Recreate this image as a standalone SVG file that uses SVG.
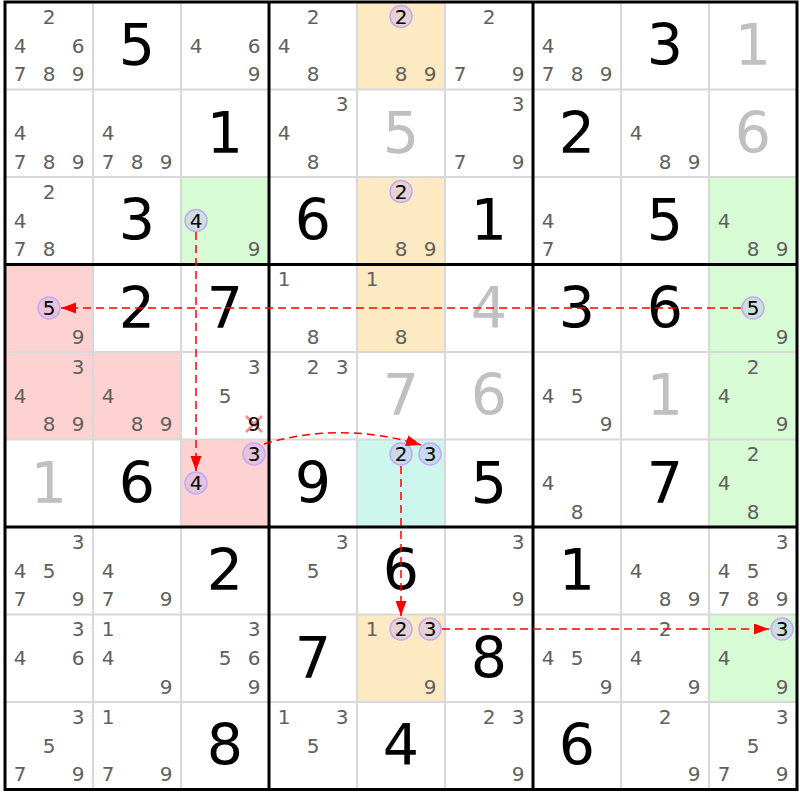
<svg xmlns="http://www.w3.org/2000/svg" width="800" height="800" viewBox="0 0 800 800">
<style>
text{font-family:"DejaVu Sans","Liberation Sans",sans-serif}
.c{font-size:20px;fill:#606060;text-anchor:middle}
.k{font-size:20px;fill:#000;text-anchor:middle}
.v{font-size:57px;fill:#000;text-anchor:middle}
.g{font-size:57px;fill:#c0c0c0;text-anchor:middle}
.o{fill:#fde9c2}
.gr{fill:#d7fcd5}
.rd{fill:#ffd2d2}
.tl{fill:#cdf6ec}
.ring{fill:#b8a8f0;fill-opacity:0.35;stroke:#c4a8f8;stroke-width:1.5}
.thin{stroke:#d8d8d8;stroke-width:2}
.thick{stroke:#000;stroke-width:3}
.ar{fill:none;stroke:#ff0000;stroke-width:1.5;stroke-dasharray:8 5;marker-end:url(#ah)}
</style>
<defs>
<marker id="ah" markerUnits="userSpaceOnUse" markerWidth="16" markerHeight="12" refX="15" refY="5.5" orient="auto">
<path d="M0,0 L15,5.5 L0,11 z" fill="#ff0000"/>
</marker>
</defs>
<rect x="0" y="0" width="800" height="800" fill="#fff"/>

<g id="r1c1" transform="translate(5,2)"><text class="c" x="44" y="21.5">2</text><text class="c" x="15" y="50.5">4</text><text class="c" x="73" y="50.5">6</text><text class="c" x="15" y="79">7</text><text class="c" x="44" y="79">8</text><text class="c" x="73" y="79">9</text></g>
<g id="r1c2" transform="translate(93,2)"><text class="v" x="44" y="63">5</text></g>
<g id="r1c3" transform="translate(181,2)"><text class="c" x="15" y="50.5">4</text><text class="c" x="73" y="50.5">6</text><text class="c" x="73" y="79">9</text></g>
<g id="r1c4" transform="translate(269,2)"><text class="c" x="44" y="21.5">2</text><text class="c" x="15" y="50.5">4</text><text class="c" x="44" y="79">8</text></g>
<g id="r1c5" transform="translate(357,2)"><rect class="o" width="88" height="87.5"/><circle class="ring" cx="44" cy="14.5" r="11"/><text class="k" x="44" y="21.5">2</text><text class="c" x="44" y="79">8</text><text class="c" x="73" y="79">9</text></g>
<g id="r1c6" transform="translate(445,2)"><text class="c" x="44" y="21.5">2</text><text class="c" x="15" y="79">7</text><text class="c" x="73" y="79">9</text></g>
<g id="r1c7" transform="translate(533,2)"><text class="c" x="15" y="50.5">4</text><text class="c" x="15" y="79">7</text><text class="c" x="44" y="79">8</text><text class="c" x="73" y="79">9</text></g>
<g id="r1c8" transform="translate(621,2)"><text class="v" x="44" y="63">3</text></g>
<g id="r1c9" transform="translate(709,2)"><text class="g" x="44" y="63">1</text></g>

<g id="r2c1" transform="translate(5,89.5)"><text class="c" x="15" y="50.5">4</text><text class="c" x="15" y="79">7</text><text class="c" x="44" y="79">8</text><text class="c" x="73" y="79">9</text></g>
<g id="r2c2" transform="translate(93,89.5)"><text class="c" x="15" y="50.5">4</text><text class="c" x="15" y="79">7</text><text class="c" x="44" y="79">8</text><text class="c" x="73" y="79">9</text></g>
<g id="r2c3" transform="translate(181,89.5)"><text class="v" x="44" y="63">1</text></g>
<g id="r2c4" transform="translate(269,89.5)"><text class="c" x="73" y="21.5">3</text><text class="c" x="15" y="50.5">4</text><text class="c" x="44" y="79">8</text></g>
<g id="r2c5" transform="translate(357,89.5)"><text class="g" x="44" y="63">5</text></g>
<g id="r2c6" transform="translate(445,89.5)"><text class="c" x="73" y="21.5">3</text><text class="c" x="15" y="79">7</text><text class="c" x="73" y="79">9</text></g>
<g id="r2c7" transform="translate(533,89.5)"><text class="v" x="44" y="63">2</text></g>
<g id="r2c8" transform="translate(621,89.5)"><text class="c" x="15" y="50.5">4</text><text class="c" x="44" y="79">8</text><text class="c" x="73" y="79">9</text></g>
<g id="r2c9" transform="translate(709,89.5)"><text class="g" x="44" y="63">6</text></g>

<g id="r3c1" transform="translate(5,177)"><text class="c" x="44" y="21.5">2</text><text class="c" x="15" y="50.5">4</text><text class="c" x="15" y="79">7</text><text class="c" x="44" y="79">8</text></g>
<g id="r3c2" transform="translate(93,177)"><text class="v" x="44" y="63">3</text></g>
<g id="r3c3" transform="translate(181,177)"><rect class="gr" width="88" height="87.5"/><circle class="ring" cx="15" cy="43.5" r="11"/><text class="k" x="15" y="50.5">4</text><text class="c" x="73" y="79">9</text></g>
<g id="r3c4" transform="translate(269,177)"><text class="v" x="44" y="63">6</text></g>
<g id="r3c5" transform="translate(357,177)"><rect class="o" width="88" height="87.5"/><circle class="ring" cx="44" cy="14.5" r="11"/><text class="k" x="44" y="21.5">2</text><text class="c" x="44" y="79">8</text><text class="c" x="73" y="79">9</text></g>
<g id="r3c6" transform="translate(445,177)"><text class="v" x="44" y="63">1</text></g>
<g id="r3c7" transform="translate(533,177)"><text class="c" x="15" y="50.5">4</text><text class="c" x="15" y="79">7</text></g>
<g id="r3c8" transform="translate(621,177)"><text class="v" x="44" y="63">5</text></g>
<g id="r3c9" transform="translate(709,177)"><rect class="gr" width="88" height="87.5"/><text class="c" x="15" y="50.5">4</text><text class="c" x="44" y="79">8</text><text class="c" x="73" y="79">9</text></g>

<g id="r4c1" transform="translate(5,264.5)"><rect class="rd" width="88" height="87.5"/><circle class="ring" cx="44" cy="43.5" r="11"/><text class="k" x="44" y="50.5">5</text><text class="c" x="73" y="79">9</text></g>
<g id="r4c2" transform="translate(93,264.5)"><text class="v" x="44" y="63">2</text></g>
<g id="r4c3" transform="translate(181,264.5)"><text class="v" x="44" y="63">7</text></g>
<g id="r4c4" transform="translate(269,264.5)"><text class="c" x="15" y="21.5">1</text><text class="c" x="44" y="79">8</text></g>
<g id="r4c5" transform="translate(357,264.5)"><rect class="o" width="88" height="87.5"/><text class="c" x="15" y="21.5">1</text><text class="c" x="44" y="79">8</text></g>
<g id="r4c6" transform="translate(445,264.5)"><text class="g" x="44" y="63">4</text></g>
<g id="r4c7" transform="translate(533,264.5)"><text class="v" x="44" y="63">3</text></g>
<g id="r4c8" transform="translate(621,264.5)"><text class="v" x="44" y="63">6</text></g>
<g id="r4c9" transform="translate(709,264.5)"><rect class="gr" width="88" height="87.5"/><circle class="ring" cx="44" cy="43.5" r="11"/><text class="k" x="44" y="50.5">5</text><text class="c" x="73" y="79">9</text></g>

<g id="r5c1" transform="translate(5,352)"><rect class="rd" width="88" height="87.5"/><text class="c" x="73" y="21.5">3</text><text class="c" x="15" y="50.5">4</text><text class="c" x="44" y="79">8</text><text class="c" x="73" y="79">9</text></g>
<g id="r5c2" transform="translate(93,352)"><rect class="rd" width="88" height="87.5"/><text class="c" x="15" y="50.5">4</text><text class="c" x="44" y="79">8</text><text class="c" x="73" y="79">9</text></g>
<g id="r5c3" transform="translate(181,352)"><text class="c" x="73" y="21.5">3</text><text class="c" x="44" y="50.5">5</text><path d="M65,64 L81,80 M81,64 L65,80" stroke="#f08c8c" stroke-width="2.5" fill="none"/><text class="k" x="73" y="79">9</text></g>
<g id="r5c4" transform="translate(269,352)"><text class="c" x="44" y="21.5">2</text><text class="c" x="73" y="21.5">3</text></g>
<g id="r5c5" transform="translate(357,352)"><text class="g" x="44" y="63">7</text></g>
<g id="r5c6" transform="translate(445,352)"><text class="g" x="44" y="63">6</text></g>
<g id="r5c7" transform="translate(533,352)"><text class="c" x="15" y="50.5">4</text><text class="c" x="44" y="50.5">5</text><text class="c" x="73" y="79">9</text></g>
<g id="r5c8" transform="translate(621,352)"><text class="g" x="44" y="63">1</text></g>
<g id="r5c9" transform="translate(709,352)"><rect class="gr" width="88" height="87.5"/><text class="c" x="44" y="21.5">2</text><text class="c" x="15" y="50.5">4</text><text class="c" x="73" y="79">9</text></g>

<g id="r6c1" transform="translate(5,439.5)"><text class="g" x="44" y="63">1</text></g>
<g id="r6c2" transform="translate(93,439.5)"><text class="v" x="44" y="63">6</text></g>
<g id="r6c3" transform="translate(181,439.5)"><rect class="rd" width="88" height="87.5"/><circle class="ring" cx="73" cy="14.5" r="11"/><text class="k" x="73" y="21.5">3</text><circle class="ring" cx="15" cy="43.5" r="11"/><text class="k" x="15" y="50.5">4</text></g>
<g id="r6c4" transform="translate(269,439.5)"><text class="v" x="44" y="63">9</text></g>
<g id="r6c5" transform="translate(357,439.5)"><rect class="tl" width="88" height="87.5"/><circle class="ring" cx="44" cy="14.5" r="11"/><text class="k" x="44" y="21.5">2</text><circle class="ring" cx="73" cy="14.5" r="11"/><text class="k" x="73" y="21.5">3</text></g>
<g id="r6c6" transform="translate(445,439.5)"><text class="v" x="44" y="63">5</text></g>
<g id="r6c7" transform="translate(533,439.5)"><text class="c" x="15" y="50.5">4</text><text class="c" x="44" y="79">8</text></g>
<g id="r6c8" transform="translate(621,439.5)"><text class="v" x="44" y="63">7</text></g>
<g id="r6c9" transform="translate(709,439.5)"><rect class="gr" width="88" height="87.5"/><text class="c" x="44" y="21.5">2</text><text class="c" x="15" y="50.5">4</text><text class="c" x="44" y="79">8</text></g>

<g id="r7c1" transform="translate(5,527)"><text class="c" x="73" y="21.5">3</text><text class="c" x="15" y="50.5">4</text><text class="c" x="44" y="50.5">5</text><text class="c" x="15" y="79">7</text><text class="c" x="73" y="79">9</text></g>
<g id="r7c2" transform="translate(93,527)"><text class="c" x="15" y="50.5">4</text><text class="c" x="15" y="79">7</text><text class="c" x="73" y="79">9</text></g>
<g id="r7c3" transform="translate(181,527)"><text class="v" x="44" y="63">2</text></g>
<g id="r7c4" transform="translate(269,527)"><text class="c" x="73" y="21.5">3</text><text class="c" x="44" y="50.5">5</text></g>
<g id="r7c5" transform="translate(357,527)"><text class="v" x="44" y="63">6</text></g>
<g id="r7c6" transform="translate(445,527)"><text class="c" x="73" y="21.5">3</text><text class="c" x="73" y="79">9</text></g>
<g id="r7c7" transform="translate(533,527)"><text class="v" x="44" y="63">1</text></g>
<g id="r7c8" transform="translate(621,527)"><text class="c" x="15" y="50.5">4</text><text class="c" x="44" y="79">8</text><text class="c" x="73" y="79">9</text></g>
<g id="r7c9" transform="translate(709,527)"><text class="c" x="73" y="21.5">3</text><text class="c" x="15" y="50.5">4</text><text class="c" x="44" y="50.5">5</text><text class="c" x="15" y="79">7</text><text class="c" x="44" y="79">8</text><text class="c" x="73" y="79">9</text></g>

<g id="r8c1" transform="translate(5,614.5)"><text class="c" x="73" y="21.5">3</text><text class="c" x="15" y="50.5">4</text><text class="c" x="73" y="50.5">6</text></g>
<g id="r8c2" transform="translate(93,614.5)"><text class="c" x="15" y="21.5">1</text><text class="c" x="15" y="50.5">4</text><text class="c" x="73" y="79">9</text></g>
<g id="r8c3" transform="translate(181,614.5)"><text class="c" x="73" y="21.5">3</text><text class="c" x="44" y="50.5">5</text><text class="c" x="73" y="50.5">6</text><text class="c" x="73" y="79">9</text></g>
<g id="r8c4" transform="translate(269,614.5)"><text class="v" x="44" y="63">7</text></g>
<g id="r8c5" transform="translate(357,614.5)"><rect class="o" width="88" height="87.5"/><text class="c" x="15" y="21.5">1</text><circle class="ring" cx="44" cy="14.5" r="11"/><text class="k" x="44" y="21.5">2</text><circle class="ring" cx="73" cy="14.5" r="11"/><text class="k" x="73" y="21.5">3</text><text class="c" x="73" y="79">9</text></g>
<g id="r8c6" transform="translate(445,614.5)"><text class="v" x="44" y="63">8</text></g>
<g id="r8c7" transform="translate(533,614.5)"><text class="c" x="15" y="50.5">4</text><text class="c" x="44" y="50.5">5</text><text class="c" x="73" y="79">9</text></g>
<g id="r8c8" transform="translate(621,614.5)"><text class="c" x="44" y="21.5">2</text><text class="c" x="15" y="50.5">4</text><text class="c" x="73" y="79">9</text></g>
<g id="r8c9" transform="translate(709,614.5)"><rect class="gr" width="88" height="87.5"/><circle class="ring" cx="73" cy="14.5" r="11"/><text class="k" x="73" y="21.5">3</text><text class="c" x="15" y="50.5">4</text><text class="c" x="73" y="79">9</text></g>

<g id="r9c1" transform="translate(5,702)"><text class="c" x="73" y="21.5">3</text><text class="c" x="44" y="50.5">5</text><text class="c" x="15" y="79">7</text><text class="c" x="73" y="79">9</text></g>
<g id="r9c2" transform="translate(93,702)"><text class="c" x="15" y="21.5">1</text><text class="c" x="15" y="79">7</text><text class="c" x="73" y="79">9</text></g>
<g id="r9c3" transform="translate(181,702)"><text class="v" x="44" y="63">8</text></g>
<g id="r9c4" transform="translate(269,702)"><text class="c" x="15" y="21.5">1</text><text class="c" x="73" y="21.5">3</text><text class="c" x="44" y="50.5">5</text></g>
<g id="r9c5" transform="translate(357,702)"><text class="v" x="44" y="63">4</text></g>
<g id="r9c6" transform="translate(445,702)"><text class="c" x="44" y="21.5">2</text><text class="c" x="73" y="21.5">3</text><text class="c" x="73" y="79">9</text></g>
<g id="r9c7" transform="translate(533,702)"><text class="v" x="44" y="63">6</text></g>
<g id="r9c8" transform="translate(621,702)"><text class="c" x="44" y="21.5">2</text><text class="c" x="73" y="79">9</text></g>
<g id="r9c9" transform="translate(709,702)"><text class="c" x="73" y="21.5">3</text><text class="c" x="44" y="50.5">5</text><text class="c" x="15" y="79">7</text><text class="c" x="73" y="79">9</text></g>

<g id="grid">
<path class="thin" d="M93,2V789.5M181,2V789.5M357,2V789.5M445,2V789.5M621,2V789.5M709,2V789.5M5,89.5H797M5,177H797M5,352H797M5,439.5H797M5,614.5H797M5,702H797"/>
<path class="thick" fill="none" d="M269,2V789.5M533,2V789.5M5,264.5H797M5,527H797"/>
<rect x="5" y="2" width="792" height="787.5" fill="none" stroke="#000" stroke-width="3"/>
</g>

<g id="connectors">
<path class="ar" d="M196,232 L196,471"/>
<path class="ar" d="M741,308 L61,308"/>
<path class="ar" d="M264,444 Q342,421 421,445"/>
<path class="ar" d="M401,466 L401,616"/>
<path class="ar" d="M442,629 L769,629"/>
</g>
</svg>
